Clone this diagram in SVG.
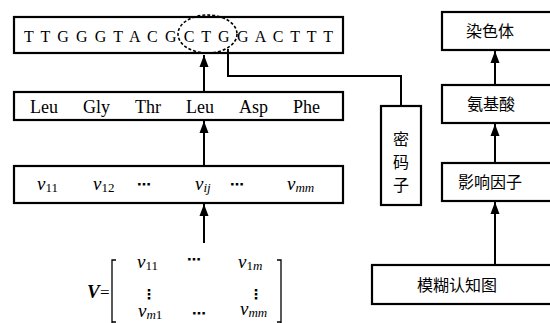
<svg xmlns="http://www.w3.org/2000/svg" width="550" height="323" viewBox="0 0 550 323">
<defs>
<marker id="ah" markerUnits="userSpaceOnUse" markerWidth="12" markerHeight="10" refX="12" refY="5" orient="auto" viewBox="0 0 12 10">
<path d="M0,0.5 L12,5 L0,9.5 Z" fill="#000"/>
</marker>
</defs>
<style>
.box{fill:#fff;stroke:#000;stroke-width:2.2}
.ser{font-family:"Liberation Serif","Times New Roman",serif;fill:#000}
.cjk{font-family:"Noto Sans CJK SC",sans-serif;fill:#000;font-size:16px}
.con{stroke:#000;stroke-width:2;fill:none}
.it{font-style:italic}
.dots{font-family:"DejaVu Sans",sans-serif;font-weight:bold;font-size:14px;fill:#000}
</style>
<rect width="550" height="323" fill="#fff"/>
<g id="dna">
<rect class="box" x="14" y="17" width="329" height="36"/>
<text class="ser" x="24" y="42" font-size="16" textLength="309" lengthAdjust="spacing">T T G G G T A C G C T G G A C T T T</text>
<ellipse cx="207.5" cy="34" rx="29.5" ry="19" fill="none" stroke="#000" stroke-width="1.6" stroke-dasharray="3,2"/>
</g>
<g id="amino">
<rect class="box" x="14" y="92" width="329" height="28"/>
<g class="ser" font-size="18">
<text x="30" y="113">Leu</text>
<text x="83" y="113">Gly</text>
<text x="135" y="113">Thr</text>
<text x="186" y="113">Leu</text>
<text x="239" y="113">Asp</text>
<text x="293" y="113">Phe</text>
</g>
</g>
<g id="vrow">
<rect class="box" x="14" y="166" width="329" height="37"/>
<g class="ser" font-size="19">
<text x="37" y="190"><tspan class="it">v</tspan><tspan font-size="13" dy="2">11</tspan></text>
<text x="93" y="190"><tspan class="it">v</tspan><tspan font-size="13" dy="2">12</tspan></text>
<text x="195" y="190"><tspan class="it">v</tspan><tspan class="it" font-size="13" dy="2">ij</tspan></text>
<text x="287" y="190"><tspan class="it">v</tspan><tspan class="it" font-size="13" dy="2">mm</tspan></text>
</g>
<text class="dots" x="137" y="189">⋯</text>
<text class="dots" x="230" y="189">⋯</text>
</g>
<g id="matrix">
<g class="ser" font-size="19">
<text x="87" y="298" font-weight="bold" font-style="italic">V</text>
<text x="100" y="298" font-size="17">=</text>
<text x="137" y="268"><tspan class="it">v</tspan><tspan font-size="13" dy="2">11</tspan></text>
<text x="238" y="268"><tspan class="it">v</tspan><tspan font-size="13" dy="2">1</tspan><tspan class="it" font-size="13">m</tspan></text>
<text x="138" y="317"><tspan class="it">v</tspan><tspan class="it" font-size="13" dy="2">m</tspan><tspan font-size="13">1</tspan></text>
<text x="240" y="315"><tspan class="it">v</tspan><tspan class="it" font-size="13" dy="2">mm</tspan></text>
</g>
<text class="dots" x="187" y="264">⋯</text>
<text class="dots" x="192" y="318">⋯</text>
<text class="dots" x="142" y="299" font-size="20">⋮</text>
<text class="dots" x="249" y="299" font-size="20">⋮</text>
<path d="M116,260 H112 V325 M277,260 H281 V325" fill="none" stroke="#000" stroke-width="1.3"/>
<path d="M112,322 H116 M281,322 H277" fill="none" stroke="#000" stroke-width="1.3"/>
</g>
<g id="codon">
<rect class="box" x="381" y="106" width="40" height="99"/>
<text class="cjk" x="401" y="145" text-anchor="middle" font-size="18">密</text>
<text class="cjk" x="401" y="168" text-anchor="middle" font-size="18">码</text>
<text class="cjk" x="401" y="191" text-anchor="middle" font-size="18">子</text>
</g>
<g id="chromosome">
<rect class="box" x="442" y="12" width="112" height="38"/>
<text class="cjk" x="490" y="37" text-anchor="middle">染色体</text>
</g>
<g id="aminoacid">
<rect class="box" x="442" y="85" width="112" height="38"/>
<text class="cjk" x="491" y="110" text-anchor="middle">氨基酸</text>
</g>
<g id="factor">
<rect class="box" x="442" y="163" width="112" height="38"/>
<text class="cjk" x="490" y="188" text-anchor="middle">影响因子</text>
</g>
<g id="fcm">
<rect class="box" x="372" y="265" width="182" height="39"/>
<text class="cjk" x="457" y="291" text-anchor="middle" font-size="17">模糊认知图</text>
</g>
<g id="connectors">
<line class="con" x1="204" y1="166" x2="204" y2="121" marker-end="url(#ah)"/>
<line class="con" x1="204" y1="92" x2="204" y2="55" marker-end="url(#ah)"/>
<line class="con" x1="204" y1="243" x2="204" y2="204" marker-end="url(#ah)"/>
<polyline class="con" points="228,49 228,76 401,76 401,106"/>
<line class="con" x1="495" y1="85" x2="495" y2="51" marker-end="url(#ah)"/>
<line class="con" x1="495" y1="163" x2="495" y2="124" marker-end="url(#ah)"/>
<line class="con" x1="495" y1="265" x2="495" y2="202" marker-end="url(#ah)"/>
</g>
</svg>
